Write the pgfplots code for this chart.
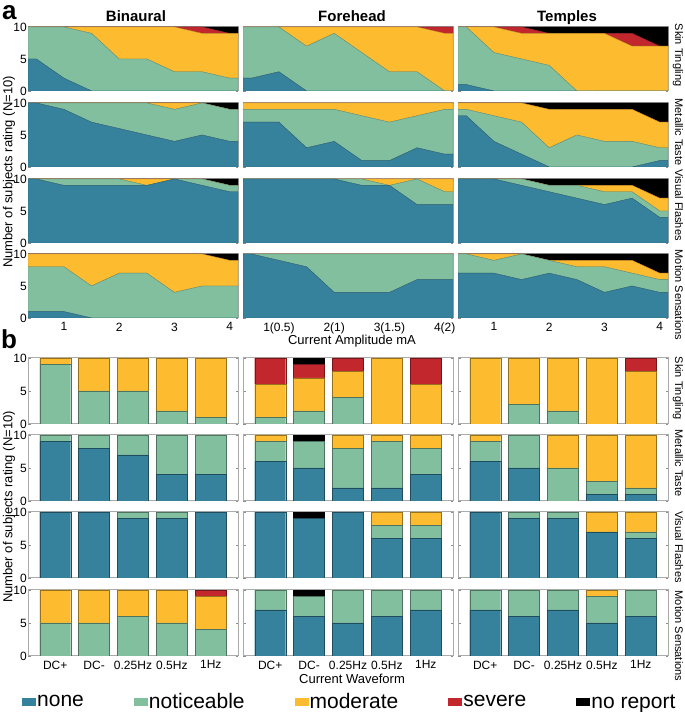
\documentclass[border=0pt]{standalone}
\usepackage{fontspec}
\setmainfont{Liberation Sans}
\usepackage{pgfplots}
\pgfplotsset{compat=1.18}
\usepackage{pgfplotstable}

\definecolor{cN}{HTML}{36819C}
\definecolor{cT}{HTML}{82BF9F}
\definecolor{cM}{HTML}{FDBC2F}
\definecolor{cS}{HTML}{C1272D}
\definecolor{cR}{HTML}{000000}

% ---------- panel a : stacked areas (counts per category) ----------
\pgfplotstableread{
x n t m s r
0.35 5 5 0 0 0
0.5 5 5 0 0 0
1 2 8 0 0 0
1.5 0 9 1 0 0
2 0 5 5 0 0
2.5 0 5 5 0 0
3 0 3 7 0 0
3.5 0 3 6 1 0
4 0 2 7 0 1
4.15 0 2 7 0 1
}\aSTa
\pgfplotstableread{
x n t m s r
0.35 2 8 0 0 0
0.5 2 8 0 0 0
1 3 7 0 0 0
1.5 0 7 3 0 0
2 0 9 1 0 0
2.5 0 6 4 0 0
3 0 3 7 0 0
3.5 0 3 7 0 0
4 0 0 9 1 0
4.15 0 0 9 1 0
}\aSTb
\pgfplotstableread{
x n t m s r
0.35 1 9 0 0 0
0.5 1 9 0 0 0
1 0 6 4 0 0
1.5 0 5 4 1 0
2 0 4 5 0 1
2.5 0 0 9 0 1
3 0 0 9 0 1
3.5 0 0 7 2 1
4 0 0 7 0 3
4.15 0 0 7 0 3
}\aSTc
\pgfplotstableread{
x n t m s r
0.35 10 0 0 0 0
0.5 10 0 0 0 0
1 9 1 0 0 0
1.5 7 3 0 0 0
2 6 4 0 0 0
2.5 5 5 0 0 0
3 4 5 1 0 0
3.5 5 5 0 0 0
4 4 5 0 0 1
4.15 4 5 0 0 1
}\aMTa
\pgfplotstableread{
x n t m s r
0.35 7 2 1 0 0
0.5 7 2 1 0 0
1 7 2 1 0 0
1.5 3 6 1 0 0
2 4 5 1 0 0
2.5 1 7 2 0 0
3 1 6 3 0 0
3.5 3 5 2 0 0
4 2 7 1 0 0
4.15 2 7 1 0 0
}\aMTb
\pgfplotstableread{
x n t m s r
0.35 8 1 1 0 0
0.5 8 1 1 0 0
1 4 4 2 0 0
1.5 2 5 3 0 0
2 0 3 6 0 1
2.5 0 5 4 0 1
3 0 4 5 0 1
3.5 0 4 5 0 1
4 1 2 4 0 3
4.15 1 2 4 0 3
}\aMTc
\pgfplotstableread{
x n t m s r
0.35 10 0 0 0 0
0.5 10 0 0 0 0
1 9 1 0 0 0
1.5 9 1 0 0 0
2 9 1 0 0 0
2.5 9 0 1 0 0
3 10 0 0 0 0
3.5 9 1 0 0 0
4 8 1 0 0 1
4.15 8 1 0 0 1
}\aVFa
\pgfplotstableread{
x n t m s r
0.35 10 0 0 0 0
0.5 10 0 0 0 0
1 10 0 0 0 0
1.5 10 0 0 0 0
2 10 0 0 0 0
2.5 9 1 0 0 0
3 9 0 1 0 0
3.5 6 4 0 0 0
4 6 2 2 0 0
4.15 6 2 2 0 0
}\aVFb
\pgfplotstableread{
x n t m s r
0.35 10 0 0 0 0
0.5 10 0 0 0 0
1 10 0 0 0 0
1.5 9 1 0 0 0
2 8 1 0 0 1
2.5 7 2 0 0 1
3 6 2 1 0 1
3.5 7 1 1 0 1
4 4 1 2 0 3
4.15 4 1 2 0 3
}\aVFc
\pgfplotstableread{
x n t m s r
0.35 1 7 2 0 0
0.5 1 7 2 0 0
1 1 7 2 0 0
1.5 0 5 5 0 0
2 0 7 3 0 0
2.5 0 7 3 0 0
3 0 4 6 0 0
3.5 0 5 5 0 0
4 0 5 4 0 1
4.15 0 5 4 0 1
}\aMSa
\pgfplotstableread{
x n t m s r
0.35 10 0 0 0 0
0.5 10 0 0 0 0
1 9 1 0 0 0
1.5 8 2 0 0 0
2 4 6 0 0 0
2.5 4 6 0 0 0
3 4 6 0 0 0
3.5 6 4 0 0 0
4 6 4 0 0 0
4.15 6 4 0 0 0
}\aMSb
\pgfplotstableread{
x n t m s r
0.35 7 3 0 0 0
0.5 7 3 0 0 0
1 7 2 1 0 0
1.5 6 4 0 0 0
2 7 2 0 0 1
2.5 6 2 1 0 1
3 4 4 1 0 1
3.5 5 2 2 0 1
4 4 2 1 0 3
4.15 4 2 1 0 3
}\aMSc

% ---------- panel b : stacked bars ----------
\pgfplotstableread{
x n t m s r
1 0 9 1 0 0
2 0 5 5 0 0
3 0 5 5 0 0
4 0 2 8 0 0
5 0 1 9 0 0
}\bSTa
\pgfplotstableread{
x n t m s r
1 0 1 5 4 0
2 0 2 5 2 1
3 0 4 4 2 0
4 0 0 10 0 0
5 0 0 6 4 0
}\bSTb
\pgfplotstableread{
x n t m s r
1 0 0 10 0 0
2 0 3 7 0 0
3 0 2 8 0 0
4 0 0 10 0 0
5 0 0 8 2 0
}\bSTc
\pgfplotstableread{
x n t m s r
1 9 1 0 0 0
2 8 2 0 0 0
3 7 3 0 0 0
4 4 6 0 0 0
5 4 6 0 0 0
}\bMTa
\pgfplotstableread{
x n t m s r
1 6 3 1 0 0
2 5 4 0 0 1
3 2 6 2 0 0
4 2 7 1 0 0
5 4 4 2 0 0
}\bMTb
\pgfplotstableread{
x n t m s r
1 6 3 1 0 0
2 5 5 0 0 0
3 0 5 5 0 0
4 1 2 7 0 0
5 1 1 8 0 0
}\bMTc
\pgfplotstableread{
x n t m s r
1 10 0 0 0 0
2 10 0 0 0 0
3 9 1 0 0 0
4 9 1 0 0 0
5 10 0 0 0 0
}\bVFa
\pgfplotstableread{
x n t m s r
1 10 0 0 0 0
2 9 0 0 0 1
3 10 0 0 0 0
4 6 2 2 0 0
5 6 2 2 0 0
}\bVFb
\pgfplotstableread{
x n t m s r
1 10 0 0 0 0
2 9 1 0 0 0
3 9 1 0 0 0
4 7 0 3 0 0
5 6 1 3 0 0
}\bVFc
\pgfplotstableread{
x n t m s r
1 0 5 5 0 0
2 0 5 5 0 0
3 0 6 4 0 0
4 0 5 5 0 0
5 0 4 5 1 0
}\bMSa
\pgfplotstableread{
x n t m s r
1 7 3 0 0 0
2 6 3 0 0 1
3 5 5 0 0 0
4 6 4 0 0 0
5 7 3 0 0 0
}\bMSb
\pgfplotstableread{
x n t m s r
1 7 3 0 0 0
2 6 4 0 0 0
3 7 3 0 0 0
4 5 4 1 0 0
5 6 4 0 0 0
}\bMSc

\newcommand{\tfont}{\fontsize{12}{14}\selectfont}
\newcommand{\lfont}{\fontsize{13}{15}\selectfont}
\newcommand{\rfont}{\fontsize{11}{13}\selectfont}

\pgfplotsset{
  base/.style={scale only axis, anchor=south west, ymin=0, ymax=10,
    ytick={0,5,10}, yticklabels={}, xticklabels={},
    axis line style={draw=black!33, line width=1pt},
    every tick/.style={black!45, line width=0.5pt},
    tick align=inside, major tick length=2.5pt,
    /pgf/number format/assume math mode=true,
    tick label style={font=\tfont},
    yticklabel style={inner sep=1pt},
    xticklabel style={inner sep=1pt, yshift=-3.5pt}},
  aax/.style={base, width=210pt, height=64pt, xmin=0.35, xmax=4.15,
    xtick={1,2,3,4}, stack plots=y},
  bax/.style={base, width=210pt, height=66pt, xmin=0.3, xmax=5.7,
    xtick={1,2,3,4,5}, ybar stacked, bar width=31pt},
  ylab/.style={yticklabels={0,5,10}},
}

\newcommand{\areas}[1]{%
\addplot[fill=cN, draw=cN!75!black, line width=0.4pt] table[x=x,y=n]{#1}\closedcycle;
\addplot[fill=cT, draw=cT!75!black, line width=0.4pt] table[x=x,y=t]{#1}\closedcycle;
\addplot[fill=cM, draw=cM!75!black, line width=0.4pt] table[x=x,y=m]{#1}\closedcycle;
\addplot[fill=cS, draw=cS!75!black, line width=0.4pt] table[x=x,y=s]{#1}\closedcycle;
\addplot[fill=cR, draw=cR, line width=0.4pt] table[x=x,y=r]{#1}\closedcycle;
}
\newcommand{\bars}[1]{%
\addplot[fill=cN, draw=cN!60!black, line width=0.4pt] table[x=x,y=n]{#1};
\addplot[fill=cT, draw=cT!60!black, line width=0.4pt] table[x=x,y=t]{#1};
\addplot[fill=cM, draw=cM!60!black, line width=0.4pt] table[x=x,y=m]{#1};
\addplot[fill=cS, draw=cS!60!black, line width=0.4pt] table[x=x,y=s]{#1};
\addplot[fill=cR, draw=cR, line width=0.4pt] table[x=x,y=r]{#1};
}

\begin{document}
\begin{tikzpicture}[x=1pt,y=1pt]
\useasboundingbox (0,0) rectangle (685,712);

% ---- panel a ----
\begin{axis}[aax, ylab, at={(28pt,621pt)}] \areas{\aSTa} \end{axis}
\begin{axis}[aax, at={(243pt,621pt)}] \areas{\aSTb} \end{axis}
\begin{axis}[aax, at={(458pt,621pt)}] \areas{\aSTc} \end{axis}

\begin{axis}[aax, ylab, at={(28pt,545pt)}] \areas{\aMTa} \end{axis}
\begin{axis}[aax, at={(243pt,545pt)}] \areas{\aMTb} \end{axis}
\begin{axis}[aax, at={(458pt,545pt)}] \areas{\aMTc} \end{axis}

\begin{axis}[aax, ylab, at={(28pt,469pt)}] \areas{\aVFa} \end{axis}
\begin{axis}[aax, at={(243pt,469pt)}] \areas{\aVFb} \end{axis}
\begin{axis}[aax, at={(458pt,469pt)}] \areas{\aVFc} \end{axis}

\begin{axis}[aax, ylab, at={(28pt,394pt)}, xticklabels={1,2,3,4}] \areas{\aMSa} \end{axis}
\begin{axis}[aax, at={(243pt,394pt)}, xticklabels={1(0.5),2(1),3(1.5),4(2)}] \areas{\aMSb} \end{axis}
\begin{axis}[aax, at={(458pt,394pt)}, xticklabels={1,2,3,4}] \areas{\aMSc} \end{axis}

% ---- panel b ----
\begin{axis}[bax, ylab, at={(28pt,288pt)}] \bars{\bSTa} \end{axis}
\begin{axis}[bax, at={(243pt,288pt)}] \bars{\bSTb} \end{axis}
\begin{axis}[bax, at={(458pt,288pt)}] \bars{\bSTc} \end{axis}

\begin{axis}[bax, ylab, at={(28pt,211pt)}] \bars{\bMTa} \end{axis}
\begin{axis}[bax, at={(243pt,211pt)}] \bars{\bMTb} \end{axis}
\begin{axis}[bax, at={(458pt,211pt)}] \bars{\bMTc} \end{axis}

\begin{axis}[bax, ylab, at={(28pt,134pt)}] \bars{\bVFa} \end{axis}
\begin{axis}[bax, at={(243pt,134pt)}] \bars{\bVFb} \end{axis}
\begin{axis}[bax, at={(458pt,134pt)}] \bars{\bVFc} \end{axis}

\begin{axis}[bax, ylab, at={(28pt,56pt)}, xticklabels={DC+,DC-,0.25Hz,0.5Hz,1Hz}] \bars{\bMSa} \end{axis}
\begin{axis}[bax, at={(243pt,56pt)}, xticklabels={DC+,DC-,0.25Hz,0.5Hz,1Hz}] \bars{\bMSb} \end{axis}
\begin{axis}[bax, at={(458pt,56pt)}, xticklabels={DC+,DC-,0.25Hz,0.5Hz,1Hz}] \bars{\bMSc} \end{axis}

% ---- legend ----
\begin{axis}[at={(0pt,0pt)}, anchor=south west, scale only axis, width=685pt, height=20pt,
  hide axis, xmin=0, xmax=1, ymin=0, ymax=1,
  legend columns=5,
  legend style={at={(22/685,0.5)}, anchor=west, draw=none, fill=none,
    font=\fontsize{21}{23}\selectfont, inner sep=0pt,
    /tikz/every even column/.append style={column sep=49pt},
    nodes={inner sep=1pt}},
  legend image code/.code={\fill[#1] (0pt,-4.5pt) rectangle (14pt,4pt);}]
\addlegendimage{fill=cN, draw=none}\addlegendentry{none}
\addlegendimage{fill=cT, draw=none}\addlegendentry{noticeable}
\addlegendimage{fill=cM, draw=none}\addlegendentry{moderate}
\addlegendimage{fill=cS, draw=none}\addlegendentry{severe}
\addlegendimage{fill=cR, draw=none}\addlegendentry{no report}
\end{axis}

% ---- texts ----
\node[anchor=base, font=\bfseries\fontsize{15}{17}\selectfont] at (136,690) {Binaural};
\node[anchor=base, font=\bfseries\fontsize{15}{17}\selectfont] at (352,690) {Forehead};
\node[anchor=base, font=\bfseries\fontsize{15}{17}\selectfont] at (567,690) {Temples};
\node[anchor=base west, inner sep=0pt, font=\bfseries\fontsize{26}{28}\selectfont] at (2,692) {a};
\node[anchor=base west, inner sep=0pt, font=\bfseries\fontsize{26}{28}\selectfont] at (1,363) {b};
\node[anchor=base, font=\lfont] at (352,367) {Current Amplitude mA};
\node[anchor=base, font=\lfont] at (352,28) {Current Waveform};
\node[anchor=base, rotate=90, font=\lfont, inner sep=0pt] at (12.5,540) {Number of subjects rating (N=10)};
\node[anchor=base, rotate=90, font=\lfont, inner sep=0pt] at (12.5,205) {Number of subjects rating (N=10)};
\foreach \yy/\tt in {657/Skin Tingling, 580/Metallic Taste, 507/Visual Flashes, 417/Motion Sensations,
                     324/Skin Tingling, 249/Metallic Taste, 165/Visual Flashes, 76/Motion Sensations}{
  \node[anchor=base, rotate=-90, font=\rfont, inner sep=0pt] at (675,\yy) {\tt};
}
\end{tikzpicture}
\end{document}
